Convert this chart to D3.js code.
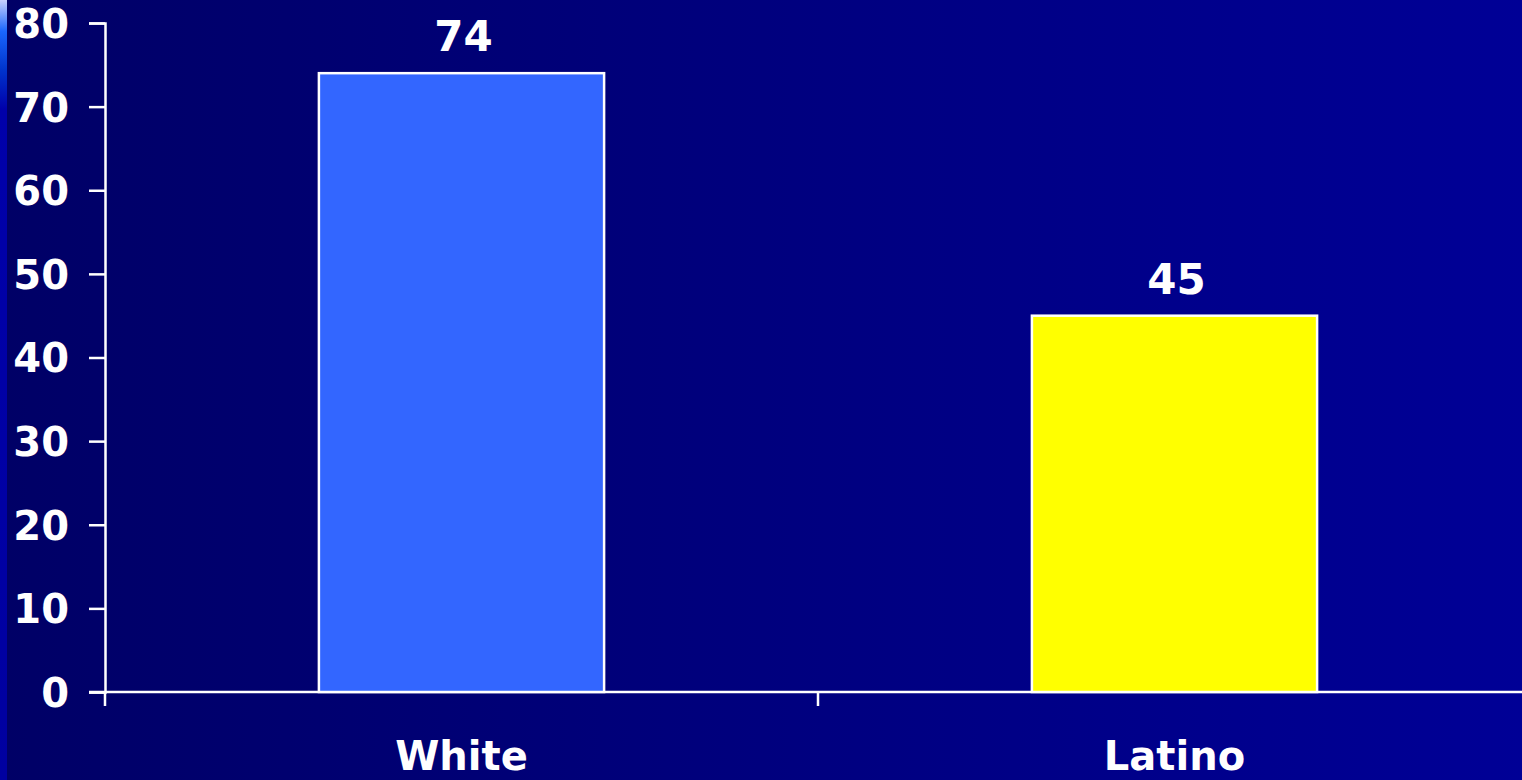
<!DOCTYPE html>
<html>
<head>
<meta charset="utf-8">
<script src="https://cdn.jsdelivr.net/npm/d3@7"></script>
<style>
  html, body { margin: 0; padding: 0; background: #000066; overflow: hidden; }
  text { font-family: "DejaVu Sans", Verdana, sans-serif; font-weight: bold; fill: #fff; }
</style>
</head>
<body>
<div id="chart"></div>
<script>
// data
var categories = ['White', 'Latino'];
var values = [74, 45];
var barColors = ['#3366ff', '#ffff00'];
var yTicks = [0, 10, 20, 30, 40, 50, 60, 70, 80];

var width = 1522, height = 780;
var margin = { top: 23, left: 105, bottom: 88 };

var svg = d3.select('#chart').append('svg')
  .attr('width', width)
  .attr('height', height);

var defs = svg.append('defs');

// background goes from dark navy on the left to a brighter blue on the right
var bg = defs.append('linearGradient').attr('id', 'bg')
  .attr('x1', 0).attr('y1', 0).attr('x2', 1).attr('y2', 0);
bg.append('stop').attr('offset', '0%').attr('stop-color', '#000066');
bg.append('stop').attr('offset', '100%').attr('stop-color', '#000096');

// thin slide-template stripe at the very left
var stripe = defs.append('linearGradient').attr('id', 'stripe')
  .attr('x1', 0).attr('y1', 0).attr('x2', 0).attr('y2', 1);
stripe.append('stop').attr('offset', '0%').attr('stop-color', '#c8d0ff');
stripe.append('stop').attr('offset', '4%').attr('stop-color', '#1a66ff');
stripe.append('stop').attr('offset', '9%').attr('stop-color', '#0033cc');
stripe.append('stop').attr('offset', '14%').attr('stop-color', '#0000aa');
stripe.append('stop').attr('offset', '100%').attr('stop-color', '#0000a0');

svg.append('rect')
  .attr('width', width).attr('height', height)
  .attr('fill', 'url(#bg)');

svg.append('rect')
  .attr('width', 7).attr('height', height)
  .attr('fill', 'url(#stripe)');

var y = d3.scaleLinear()
  .domain([0, 80])
  .range([height - margin.bottom, margin.top]);

// each category gets a band of ~713px, the second one runs off the right edge
var x = d3.scaleBand()
  .domain(categories)
  .range([margin.left, margin.left + 2 * 713])
  .paddingInner(0.6)
  .paddingOuter(0.3);

//y axis
var yAxis = d3.axisLeft(y)
  .tickValues(yTicks)
  .tickSize(16)
  .tickPadding(20);

var gy = svg.append('g')
  .attr('transform', 'translate(' + margin.left + ',0)')
  .call(yAxis);
gy.select('.domain').attr('stroke', '#fff').attr('stroke-width', 2.5);
gy.selectAll('.tick line').attr('stroke', '#fff').attr('stroke-width', 2.5);
gy.selectAll('.tick text')
  .style('font-size', '40px')
  .attr('dy', '0.36em');

//x axis, ticks sit on the band edges
var xEdges = [margin.left, margin.left + 713];
var gx = svg.append('g')
  .attr('transform', 'translate(0,' + y(0) + ')');
gx.append('line')
  .attr('x1', margin.left - 16).attr('x2', width)
  .attr('stroke', '#fff').attr('stroke-width', 2.5);
gx.selectAll('.xtick')
  .data(xEdges)
  .enter().append('line')
  .attr('class', 'xtick')
  .attr('x1', function(d) { return d; })
  .attr('x2', function(d) { return d; })
  .attr('y1', 0).attr('y2', 14)
  .attr('stroke', '#fff').attr('stroke-width', 2.5);

// category names sit right at the bottom edge, like in the slide
gx.selectAll('.cat')
  .data(categories)
  .enter().append('text')
  .attr('class', 'cat')
  .attr('x', function(d) { return x(d) + x.bandwidth() / 2; })
  .attr('y', 78)
  .attr('text-anchor', 'middle')
  .style('font-size', '40px')
  .text(function(d) { return d; });

//bars
svg.append('g')
  .selectAll('.bar')
  .data(values)
  .enter().append('rect')
  .attr('class', 'bar')
  .attr('x', function(d, i) { return x(categories[i]); })
  .attr('y', function(d) { return y(d); })
  .attr('width', x.bandwidth())
  .attr('height', function(d) { return y(0) - y(d); })
  .attr('fill', function(d, i) { return barColors[i]; })
  .attr('stroke', '#fff')
  .attr('stroke-width', 2.5);

//value labels above the bars
svg.append('g')
  .selectAll('.val')
  .data(values)
  .enter().append('text')
  .attr('class', 'val')
  .attr('x', function(d, i) { return x(categories[i]) + x.bandwidth() / 2 + 2; })
  .attr('y', function(d) { return y(d) - 22; })
  .attr('text-anchor', 'middle')
  .style('font-size', '42px')
  .text(function(d) { return d; });
</script>
</body>
</html>
